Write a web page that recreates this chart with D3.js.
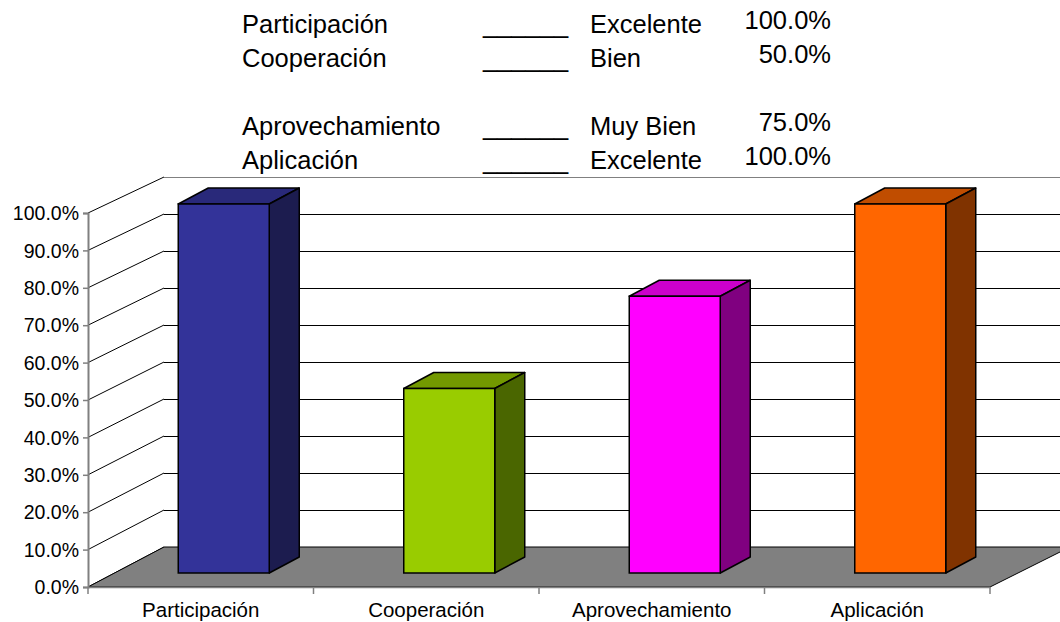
<!DOCTYPE html>
<html>
<head>
<meta charset="utf-8">
<script src="https://cdn.jsdelivr.net/npm/d3@7/dist/d3.min.js"></script>
<style>
  html, body { margin: 0; padding: 0; background: #fff; }
  svg { display: block; font-family: "Liberation Sans", Arial, sans-serif; }
</style>
</head>
<body>
<svg id="chart" width="1060" height="622"></svg>
<script>
// ---- data ----
const categories = ["Participación", "Cooperación", "Aprovechamiento", "Aplicación"];
const values = [1.0, 0.5, 0.75, 1.0];
const ratings = ["Excelente", "Bien", "Muy Bien", "Excelente"];
const tickValues = [0, 0.1, 0.2, 0.3, 0.4, 0.5, 0.6, 0.7, 0.8, 0.9, 1.0];
const frontColors = ["#333399", "#99cc00", "#ff00ff", "#ff6600"];
const topColors = ["#29297a", "#739900", "#cc00cc", "#c04d00"];
const sideColors = ["#1c1c4f", "#4a6600", "#800080", "#803300"];

// ---- layout ----
const svg = d3.select("#chart");
const fmt = d3.format(".1%");
const FONT = "'Liberation Sans', Arial, sans-serif";

const x = d3.scaleBand().domain(categories).range([88, 990]).paddingInner(0).paddingOuter(0);
const yFront = d3.scaleLinear().domain([0, 1]).range([587, 213]);
const yBack = d3.scaleLinear().domain([0, 1]).range([547, 177]);
const yBar = d3.scaleLinear().domain([0, 1]).range([573, 204]);
const depthX = 76;
const wallRight = 1070;
const barW = 91, barShift = 23, barDX = 30, barDY = -16;

// back wall gridlines
svg.append("g").selectAll("line").data(tickValues).join("line")
  .attr("x1", 88 + depthX).attr("x2", wallRight)
  .attr("y1", d => Math.round(yBack(d)) + 0.5).attr("y2", d => Math.round(yBack(d)) + 0.5)
  .attr("stroke", d => d === 1 ? "#808080" : "#000").attr("stroke-width", 1);

// left wall diagonals
svg.append("g").selectAll("line").data(tickValues).join("line")
  .attr("x1", 88).attr("y1", d => yFront(d))
  .attr("x2", 88 + depthX).attr("y2", d => yBack(d))
  .attr("stroke", "#000").attr("stroke-width", 1);

// floor
const floorPts = [[88, yFront(0)], [88 + depthX, yBack(0)], [wallRight, yBack(0)], [990, yFront(0)]];
svg.append("polygon")
  .attr("points", floorPts.map(p => p.join(",")).join(" "))
  .attr("fill", "#808080").attr("stroke", "#000").attr("stroke-width", 1);

// bars
const bars = svg.append("g").selectAll("g").data(categories).join("g");
bars.each(function (c, i) {
  const g = d3.select(this);
  const x0 = x(c) + x.bandwidth() / 2 + barShift - barW / 2;
  const x1 = x0 + barW;
  const yt = yBar(values[i]);
  const yb = yBar(0);
  g.append("polygon")
    .attr("points", [[x0, yt], [x0 + barDX, yt + barDY], [x1 + barDX, yt + barDY], [x1, yt]].map(p => p.join(",")).join(" "))
    .attr("fill", topColors[i]).attr("stroke", "#000").attr("stroke-width", 1.5).attr("stroke-linejoin", "round");
  g.append("polygon")
    .attr("points", [[x1, yt], [x1 + barDX, yt + barDY], [x1 + barDX, yb + barDY], [x1, yb]].map(p => p.join(",")).join(" "))
    .attr("fill", sideColors[i]).attr("stroke", "#000").attr("stroke-width", 1.5).attr("stroke-linejoin", "round");
  g.append("rect")
    .attr("x", x0).attr("y", yt).attr("width", barW).attr("height", yb - yt)
    .attr("fill", frontColors[i]).attr("stroke", "#000").attr("stroke-width", 1.5);
});

// y axis
const yAxis = d3.axisLeft(yFront).tickValues(tickValues).tickFormat(fmt).tickSize(5).tickPadding(4);
const gy = svg.append("g").attr("transform", "translate(88,0)").call(yAxis);
gy.select(".domain").attr("stroke", "#808080").attr("stroke-width", 2);
gy.selectAll(".tick line").attr("stroke", "#808080").attr("stroke-width", 1.5);
gy.selectAll(".tick text").attr("font-size", 19.5).attr("fill", "#000")
  .attr("font-family", FONT).attr("dy", "0.34em");

// x axis
const xAxis = d3.axisBottom(x).tickSize(0).tickPadding(15);
const gx = svg.append("g").attr("transform", `translate(0,${yFront(0)})`).call(xAxis);
gx.select(".domain").attr("stroke", "#808080").attr("stroke-width", 1.5);
gx.selectAll(".tick text").attr("font-size", 20.5).attr("fill", "#000")
  .attr("font-family", FONT);
// category separators
const sepPos = [88].concat(categories.map(c => x(c) + x.bandwidth()));
svg.append("g").selectAll("line").data(sepPos).join("line")
  .attr("x1", d => d).attr("x2", d => d)
  .attr("y1", yFront(0)).attr("y2", yFront(0) + 7)
  .attr("stroke", "#808080").attr("stroke-width", 1.5);

// legend text block at top
const rowY = [33, 67, 135, 169];
const leg = svg.append("g").attr("font-size", 25.5).attr("fill", "#000").attr("font-family", FONT);
categories.forEach((c, i) => {
  leg.append("text").attr("x", 242).attr("y", rowY[i]).text(c);
  leg.append("text").attr("x", 483).attr("y", rowY[i]).text("______");
  leg.append("text").attr("x", 590).attr("y", rowY[i]).text(ratings[i]);
  leg.append("text").attr("x", 831).attr("y", rowY[i] - 4).attr("text-anchor", "end").text(fmt(values[i]));
});
</script>
</body>
</html>
